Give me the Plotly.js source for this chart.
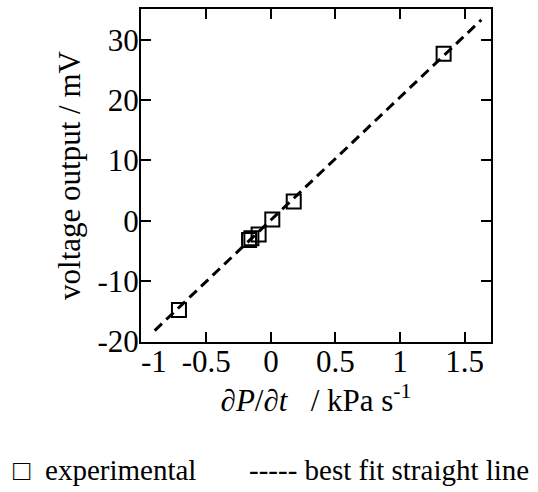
<!DOCTYPE html>
<html>
<head>
<meta charset="utf-8">
<script src="https://cdn.plot.ly/plotly-3.0.1.min.js"></script>
<style>html,body{margin:0;padding:0;background:#fff;}#chart{width:538px;height:492px;}</style>
</head>
<body>
<div id="chart"></div>
<script>
// experimental points: dP/dt (kPa/s) vs voltage output (mV)
const expX = [-0.712, -0.169, -0.151, -0.095, 0.011, 0.177, 1.338];
const expY = [-14.8, -3.2, -2.9, -2.3, 0.2, 3.2, 27.7];
// best fit straight line end points
const fitX = [-0.90, 1.63];
const fitY = [-18.2, 33.3];
const xTicks = [-1, -0.5, 0, 0.5, 1, 1.5];
const xTickText = ['', '-0.5', '0', '0.5', '1', '1.5'];
const firstXTick = '-1';
const yTicks = [-20, -10, 0, 10, 20, 30];

const font = 'Liberation Serif, Times New Roman, serif';

const traces = [
  {x: fitX, y: fitY, mode: 'lines', type: 'scatter',
   line: {color: '#000', width: 3, dash: '10px,6px'}, showlegend: false},
  {x: expX, y: expY, mode: 'markers', type: 'scatter',
   marker: {symbol: 'square-open', size: 14, color: '#000', line: {width: 2, color: '#000'}},
   showlegend: false}
];

const axisCommon = {
  showgrid: false, zeroline: false, showline: true, linecolor: '#000', linewidth: 2,
  mirror: 'ticks', ticks: 'inside', ticklen: 10, tickwidth: 2, tickcolor: '#000',
  tickfont: {family: font, size: 31, color: '#000'}
};

const layout = {
  width: 538, height: 492,
  margin: {l: 141, r: 47, t: 9, b: 150},
  paper_bgcolor: '#fff', plot_bgcolor: '#fff',
  font: {family: font, color: '#000'},
  xaxis: Object.assign({}, axisCommon, {
    range: [-1.006, 1.705], tickvals: xTicks, ticktext: xTickText,
    ticklabelstandoff: -9,
    title: {text: '\u2202<i>P</i>/\u2202<i>t</i>\u00a0\u00a0\u00a0/ kPa s<sup>-1</sup>', font: {family: font, size: 31, color: '#000'}, standoff: 0}
  }),
  yaxis: Object.assign({}, axisCommon, {
    range: [-20.1, 35.1], tickvals: yTicks, ticktext: yTicks.map(String),
    ticklabelstandoff: -6,
    title: {text: 'voltage output / mV', font: {family: font, size: 31, color: '#000'}, standoff: 8}
  }),
  annotations: [
    {xref: 'x', yref: 'paper', x: xTicks[0], y: -0.058, xanchor: 'center', yanchor: 'middle', xshift: 12,
     text: firstXTick, showarrow: false, font: {family: font, size: 31, color: '#000'}},
    {xref: 'paper', yref: 'paper', x: -0.372, y: -0.384, xanchor: 'left', yanchor: 'middle',
     text: '\u25a1\u00a0\u00a0experimental', showarrow: false, font: {family: font, size: 29, color: '#000'}},
    {xref: 'paper', yref: 'paper', x: 0.303, y: -0.384, xanchor: 'left', yanchor: 'middle',
     text: '----- best fit straight line', showarrow: false, font: {family: font, size: 29, color: '#000'}}
  ]
};

Plotly.newPlot('chart', traces, layout, {displayModeBar: false, staticPlot: true});
</script>
</body>
</html>
